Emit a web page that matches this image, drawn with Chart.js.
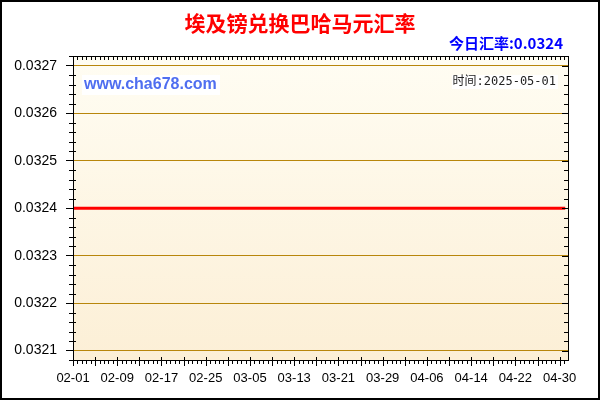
<!DOCTYPE html>
<html>
<head>
<meta charset="utf-8">
<script src="https://cdn.jsdelivr.net/npm/chart.js@4/dist/chart.umd.min.js"></script>
<style>
    html, body { margin: 0; padding: 0; background: #fff; }
    canvas { display: block; }
</style>
</head>
<body>
<canvas id="rateChart" width="600" height="400"></canvas>
<script>
const chartTitle = '埃及镑兑换巴哈马元汇率';
const todayRate = '今日汇率:0.0324';
const siteText = 'www.cha678.com';
const timeText = '时间:2025-05-01';

const days = [
    '02-01','02-02','02-03','02-04','02-05','02-06','02-07','02-08','02-09','02-10',
    '02-11','02-12','02-13','02-14','02-15','02-16','02-17','02-18','02-19','02-20',
    '02-21','02-22','02-23','02-24','02-25','02-26','02-27','02-28',
    '03-01','03-02','03-03','03-04','03-05','03-06','03-07','03-08','03-09','03-10',
    '03-11','03-12','03-13','03-14','03-15','03-16','03-17','03-18','03-19','03-20',
    '03-21','03-22','03-23','03-24','03-25','03-26','03-27','03-28','03-29','03-30','03-31',
    '04-01','04-02','04-03','04-04','04-05','04-06','04-07','04-08','04-09','04-10',
    '04-11','04-12','04-13','04-14','04-15','04-16','04-17','04-18','04-19','04-20',
    '04-21','04-22','04-23','04-24','04-25','04-26','04-27','04-28','04-29','04-30',
    '05-01'
];

const rates = [
    0.0324,0.0324,0.0324,0.0324,0.0324,0.0324,0.0324,0.0324,0.0324,0.0324,
    0.0324,0.0324,0.0324,0.0324,0.0324,0.0324,0.0324,0.0324,0.0324,0.0324,
    0.0324,0.0324,0.0324,0.0324,0.0324,0.0324,0.0324,0.0324,0.0324,0.0324,
    0.0324,0.0324,0.0324,0.0324,0.0324,0.0324,0.0324,0.0324,0.0324,0.0324,
    0.0324,0.0324,0.0324,0.0324,0.0324,0.0324,0.0324,0.0324,0.0324,0.0324,
    0.0324,0.0324,0.0324,0.0324,0.0324,0.0324,0.0324,0.0324,0.0324,0.0324,
    0.0324,0.0324,0.0324,0.0324,0.0324,0.0324,0.0324,0.0324,0.0324,0.0324,
    0.0324,0.0324,0.0324,0.0324,0.0324,0.0324,0.0324,0.0324,0.0324,0.0324,
    0.0324,0.0324,0.0324,0.0324,0.0324,0.0324,0.0324,0.0324,0.0324,0.0324
];

const xTickLabels = ['02-01','02-09','02-17','02-25','03-05','03-13','03-21','03-29','04-06','04-14','04-22','04-30'];
const yTickValues = [0.0321, 0.0322, 0.0323, 0.0324, 0.0325, 0.0326, 0.0327];

const FONT = '"Liberation Sans", Arial, sans-serif';

// ── background, frame, minor ticks, texts ──
const decor = {
    id: 'decor',
    beforeDraw(chart) {
        const { ctx, chartArea: a } = chart;
        ctx.save();
        ctx.fillStyle = '#fff';
        ctx.fillRect(0, 0, chart.width, chart.height);
        const g = ctx.createLinearGradient(0, a.top, 0, a.bottom);
        g.addColorStop(0, '#FFFDF3');
        g.addColorStop(1, '#FCEFD6');
        ctx.fillStyle = g;
        ctx.fillRect(a.left, a.top, a.right - a.left, a.bottom - a.top);
        ctx.restore();
    },
    afterDraw(chart) {
        const { ctx, chartArea: a, scales: { x, y } } = chart;
        const px = v => Math.round(v) + 0.5;
        ctx.save();
        ctx.strokeStyle = '#000';
        ctx.lineWidth = 1;
        ctx.beginPath();
        // x ticks, bottom and top
        for (let i = 0; i * 0.8 <= x.max; i++) {
            const xp = px(x.getPixelForValue(i * 0.8));
            if (i % 5 === 0) {
                ctx.moveTo(xp, a.bottom - 3); ctx.lineTo(xp, a.bottom + 6);
            } else {
                ctx.moveTo(xp, a.bottom); ctx.lineTo(xp, a.bottom + 4);
            }
            ctx.moveTo(xp, a.top); ctx.lineTo(xp, a.top + 4);
        }
        // y minor ticks, left and right
        for (let k = -1; k <= 31; k++) {
            const v = yTickValues[0] + k * 0.00002;
            if (v < y.min || v > y.max) continue;
            const yp = px(y.getPixelForValue(v));
            if (k % 5 !== 0) {
                ctx.moveTo(a.left - 4, yp); ctx.lineTo(a.left + 3, yp);
                ctx.moveTo(a.right - 4, yp); ctx.lineTo(a.right, yp);
            } else {
                ctx.moveTo(a.right - 6, yp); ctx.lineTo(a.right, yp);
            }
        }
        ctx.stroke();
        ctx.strokeRect(a.left + 0.5, a.top + 0.5, a.right - a.left, a.bottom - a.top);

        // title
        ctx.textBaseline = 'middle';
        ctx.textAlign = 'center';
        ctx.fillStyle = '#FF0000';
        ctx.font = 'bold 21px "Noto Sans CJK SC", sans-serif';
        ctx.fillText(chartTitle, 300, 23);

        // today's rate
        ctx.textAlign = 'right';
        ctx.fillStyle = '#0000FF';
        ctx.font = 'bold 15px "Noto Sans CJK SC", sans-serif';
        ctx.fillText(todayRate, 563, 43);

        // site watermark
        ctx.fillStyle = '#fff';
        ctx.fillRect(82, 75, 138, 20);
        ctx.textAlign = 'left';
        ctx.fillStyle = '#4F6EF0';
        ctx.font = 'bold 16px ' + FONT;
        ctx.fillText(siteText, 84, 85);

        // time stamp
        ctx.fillStyle = '#fff';
        ctx.fillRect(452, 75, 106, 14);
        ctx.textAlign = 'right';
        ctx.fillStyle = '#222';
        ctx.font = '12px "DejaVu Sans Mono", "Noto Sans CJK SC", monospace';
        ctx.fillText(timeText, 556, 82);

        // outer border
        ctx.lineWidth = 2;
        ctx.strokeStyle = '#000';
        ctx.strokeRect(1, 1, chart.width - 2, chart.height - 2);
        ctx.restore();
    }
};

const ctx = document.getElementById('rateChart').getContext('2d');
const rateChart = new Chart(ctx, {
    type: 'line',
    data: {
        datasets: [{
            label: 'rate',
            data: rates.map((r, i) => ({ x: i, y: r })),
            borderColor: '#FF0000',
            borderWidth: 3,
            pointRadius: 0,
            fill: false,
            tension: 0
        }]
    },
    options: {
        responsive: false,
        animation: false,
        devicePixelRatio: 1,
        layout: { padding: { top: 56, right: 32, left: 0, bottom: 0 } },
        plugins: {
            legend: { display: false },
            tooltip: { enabled: false }
        },
        scales: {
            x: {
                type: 'linear',
                min: 0,
                max: 89.5,
                afterFit: s => { s.height = 40; },
                afterBuildTicks: s => { s.ticks = xTickLabels.map(l => ({ value: days.indexOf(l) })); },
                grid: { display: false, drawTicks: false },
                border: { display: false },
                ticks: {
                    autoSkip: false,
                    maxRotation: 0,
                    padding: 11,
                    color: '#000',
                    font: { family: FONT, size: 13 },
                    callback: v => days[v]
                }
            },
            y: {
                min: 0.03208,
                max: 0.032721,
                afterFit: s => { s.width = 73; },
                afterBuildTicks: s => { s.ticks = yTickValues.map(v => ({ value: v })); },
                grid: { color: '#B8860B', lineWidth: 1, tickColor: '#000', tickLength: 7 },
                border: { display: false },
                ticks: {
                    padding: 9,
                    color: '#000',
                    font: { family: FONT, size: 14 },
                    callback: v => v.toFixed(4)
                }
            }
        }
    },
    plugins: [decor]
});
</script>
</body>
</html>
